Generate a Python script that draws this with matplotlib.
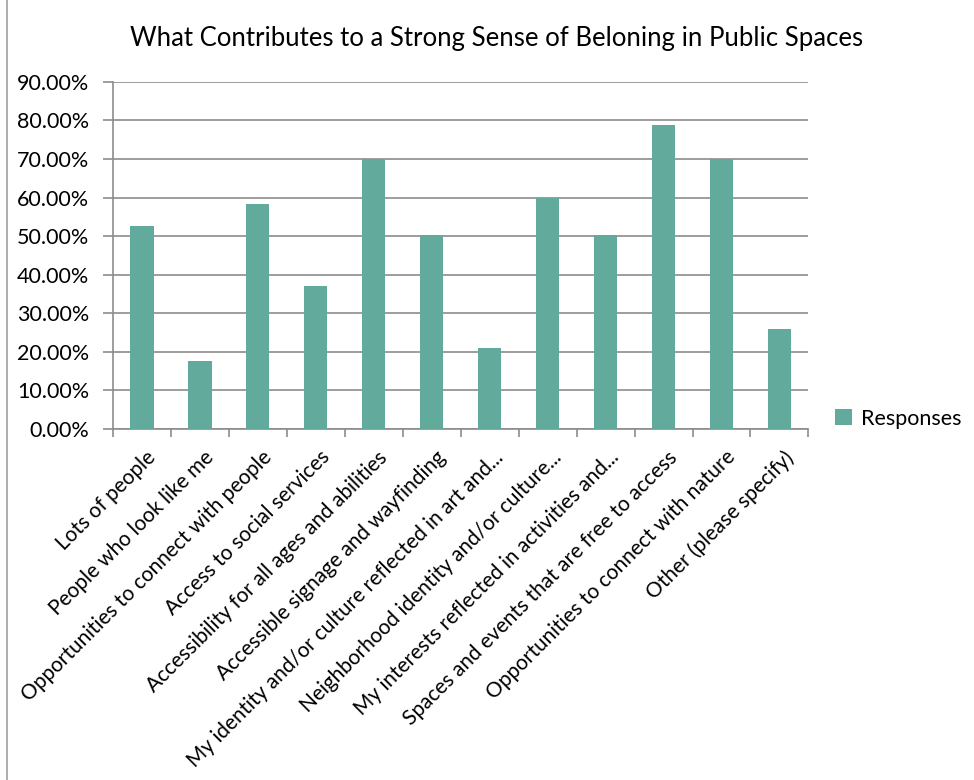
import matplotlib.pyplot as plt
from matplotlib.lines import Line2D
from matplotlib.ticker import FuncFormatter, FixedLocator
import numpy as np

plt.rcParams['font.family'] = ['Lato', 'DejaVu Sans']

categories = [
    'Lots of people',
    'People who look like me',
    'Opportunities to connect with people',
    'Access to social services',
    'Accessibility for all ages and abilities',
    'Accessible signage and wayfinding',
    'My identity and/or culture reflected in art and...',
    'Neighborhood identity and/or culture...',
    'My interests reflected in activities and...',
    'Spaces and events that are free to access',
    'Opportunities to connect with nature',
    'Other (please specify)',
]
responses = [52.7, 17.7, 58.4, 37.1, 69.9, 50.2, 21.0, 60.0, 50.2, 78.7, 69.9, 25.9]

bar_color = '#62ab9c'
grid_color = '#8c8c8c'

fig = plt.figure(figsize=(9.74, 7.8), dpi=100)
ax = fig.add_axes([0.116, 0.45, 0.714, 0.445])

x = np.arange(len(categories))
ax.bar(x, responses, width=0.4, color=bar_color, label='Responses', zorder=3)

ax.set_xlim(-0.5, len(categories) - 0.5)
ax.set_ylim(0, 90)
ax.set_yticks(np.arange(0, 91, 10))
ax.yaxis.set_major_formatter(FuncFormatter(lambda v, p: f'{v:.2f}%'))
ax.grid(axis='y', color=grid_color, linewidth=1.2, zorder=0)

# category labels on major ticks (no tick mark), tick marks on boundaries
ax.set_xticks(x + 0.06)
ax.set_xticklabels(categories, rotation=45, ha='right', rotation_mode='anchor', fontsize=15)
ax.tick_params(axis='x', which='major', length=0, pad=13)
ax.xaxis.set_minor_locator(FixedLocator(np.arange(-0.5, len(categories), 1)))
ax.tick_params(axis='x', which='minor', length=6, color=grid_color, width=1.2)
ax.tick_params(axis='y', length=7, color=grid_color, width=1.2, labelsize=15.5, pad=10)

for s in ['top', 'right']:
    ax.spines[s].set_visible(False)
for s in ['left', 'bottom']:
    ax.spines[s].set_color(grid_color)
    ax.spines[s].set_linewidth(1.2)

fig.suptitle('What Contributes to a Strong Sense of Beloning in Public Spaces',
             x=0.51, y=0.967, fontsize=18.5)

ax.legend(loc='center left', bbox_to_anchor=(1.01, 0.03), frameon=False,
          fontsize=15.5, handlelength=0.8, handleheight=0.8, handletextpad=0.4)

# thin frame line at the left edge of the picture
fig.add_artist(Line2D([0.007, 0.007], [0, 1], color='#a0a0a0', linewidth=1.2))

plt.savefig('out.png', dpi=100)
plt.close()
